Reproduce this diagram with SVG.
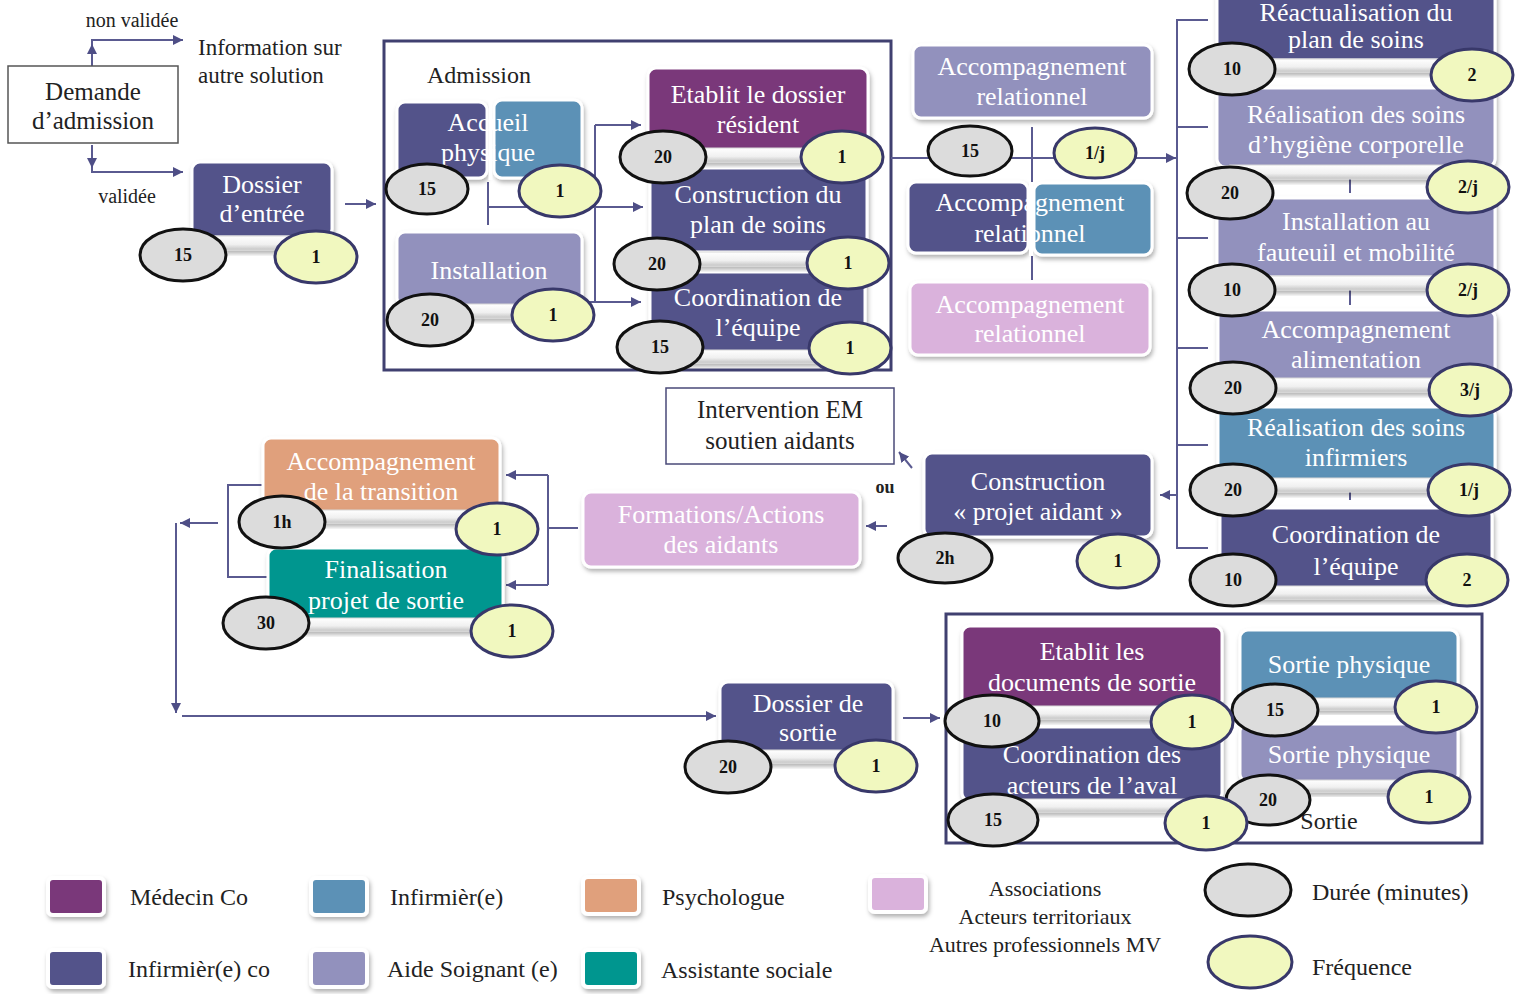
<svg xmlns="http://www.w3.org/2000/svg" width="1516" height="994" viewBox="0 0 1516 994">
<defs>
<filter id="sh" x="-10%" y="-20%" width="130%" height="160%"><feDropShadow dx="1.5" dy="3" stdDeviation="2" flood-color="#000" flood-opacity="0.3"/></filter>
<linearGradient id="barg" x1="0" y1="0" x2="0" y2="1"><stop offset="0" stop-color="#ffffff"/><stop offset="0.6" stop-color="#f0f0f0"/><stop offset="1" stop-color="#c4c4c4"/></linearGradient>
<marker id="ar" viewBox="0 0 10 10" refX="10" refY="5" markerWidth="10" markerHeight="10" markerUnits="userSpaceOnUse" orient="auto"><path d="M0,0 L10,5 L0,10 z" fill="#4e4e86"/></marker>
</defs>
<style>
text{font-family:"Liberation Serif","DejaVu Serif",serif}
.b{stroke:#fff;stroke-width:3;filter:url(#sh)}
.ic{fill:#53528a}.mc{fill:#7a387a}.inf{fill:#5b91b6}.as{fill:#9291bd}.psy{fill:#e0a07c}.soc{fill:#00968f}.ass{fill:#dab2dc}
.t{fill:#fff;font-size:26px;text-anchor:middle}
.bar{fill:url(#barg);stroke:#d6d6d6;stroke-width:1;filter:url(#sh)}
.d{fill:#dcdcdc;stroke:#111;stroke-width:3}
.f{fill:#f1f8bf;stroke:#38386a;stroke-width:3}
.n{font-size:18px;font-weight:bold;text-anchor:middle;fill:#111}
.c{fill:none;stroke:#5a5a90;stroke-width:2}
.k{fill:#222}
.lg{font-size:24px;fill:#222}
.sq{stroke:#fff;stroke-width:4;filter:url(#sh)}
</style>
<rect x="0" y="0" width="1516" height="994" fill="#fff"/>

<!-- frames -->
<rect x="384" y="41" width="507" height="329" fill="#fff" stroke="#404070" stroke-width="3"/>
<rect x="946" y="614" width="536" height="229" fill="#fff" stroke="#404070" stroke-width="3"/>

<g id="connectors">
<path class="c" d="M92,66 V44" marker-end="url(#ar)"/>
<path class="c" d="M92,44 V40 H183" marker-end="url(#ar)"/>
<path class="c" d="M92,145 V168" marker-end="url(#ar)"/>
<path class="c" d="M92,168 V172 H183" marker-end="url(#ar)"/>
<path class="c" d="M345,204 H376" marker-end="url(#ar)"/>
<path class="c" d="M488,182 V225"/>
<path class="c" d="M488,207 H643" marker-end="url(#ar)"/>
<path class="c" d="M595,125 V302"/>
<path class="c" d="M595,125 H641" marker-end="url(#ar)"/>
<path class="c" d="M582,302 H641" marker-end="url(#ar)"/>
<path class="c" d="M891,158 H1176" marker-end="url(#ar)"/>
<path class="c" d="M1032,127 V280"/>
<path class="c" d="M1208,20 H1177 V548 H1208"/>
<path class="c" d="M1177,127 H1208 M1177,238 H1208 M1177,348 H1208 M1177,445 H1208"/>
<path class="c" d="M1177,495 H1160" marker-end="url(#ar)"/>
<path class="c" d="M1350,165 V193 M1350,280 V305 M1350,478 V500" stroke-width="1.5"/>
<path class="c" d="M912,468 L899,452" marker-end="url(#ar)"/>
<path class="c" d="M887,526 H866" marker-end="url(#ar)"/>
<path class="c" d="M578,528 H548 M548,475 V585"/>
<path class="c" d="M548,475 H506" marker-end="url(#ar)"/>
<path class="c" d="M548,585 H506" marker-end="url(#ar)"/>
<path class="c" d="M262,485 H228 V577 H267"/>
<path class="c" d="M218,523 H180" marker-end="url(#ar)"/>
<path class="c" d="M176,523 V713" marker-end="url(#ar)"/>
<path class="c" d="M182,716 H716" marker-end="url(#ar)"/>
<path class="c" d="M903,718 H940" marker-end="url(#ar)"/>
</g>

<g id="labels">
<text class="k" x="132" y="27" font-size="20" text-anchor="middle">non validée</text>
<text class="k" x="198" y="55" font-size="23">Information sur</text>
<text class="k" x="198" y="83" font-size="23">autre solution</text>
<text class="k" x="127" y="203" font-size="20" text-anchor="middle">validée</text>
<text class="k" x="427" y="83" font-size="24">Admission</text>
<text class="k" x="885" y="493" font-size="18" text-anchor="middle" font-weight="bold">ou</text>
<text class="k" x="1329" y="829" font-size="24" text-anchor="middle">Sortie</text>
</g>

<g id="demande-admission">
<rect x="8" y="66" width="170" height="77" fill="#fff" stroke="#555" stroke-width="1.5"/>
<text class="k" x="93" y="100" font-size="25" text-anchor="middle">Demande</text>
<text class="k" x="93" y="129" font-size="25" text-anchor="middle">d’admission</text>
</g>

<g id="dossier-entree">
<rect class="b ic" x="192" y="162" width="140" height="75" rx="8"/>
<rect class="bar" x="200" y="236" width="124" height="14" rx="3"/>
<text class="t" x="262" y="193">Dossier</text>
<text class="t" x="262" y="222">d’entrée</text>
<ellipse class="d" cx="183" cy="255" rx="43" ry="26"/><text class="n" x="183" y="261">15</text>
<ellipse class="f" cx="316" cy="257" rx="41" ry="26"/><text class="n" x="316" y="263">1</text>
</g>

<g id="coordination-equipe-admission">
<rect class="b ic" x="650" y="272" width="215" height="80" rx="8"/>
<rect class="bar" x="660" y="350" width="195" height="13" rx="3"/>
<text class="t" x="758" y="306">Coordination de</text>
<text class="t" x="758" y="336">l’équipe</text>
<ellipse class="d" cx="660" cy="347" rx="43" ry="26"/><text class="n" x="660" y="353">15</text>
<ellipse class="f" cx="850" cy="348" rx="41" ry="26"/><text class="n" x="850" y="354">1</text>
</g>

<g id="construction-plan">
<rect class="b ic" x="650" y="168" width="217" height="84" rx="8"/>
<rect class="bar" x="660" y="252" width="197" height="14" rx="3"/>
<text class="t" x="758" y="203">Construction du</text>
<text class="t" x="758" y="233">plan de soins</text>
<ellipse class="d" cx="657" cy="264" rx="43" ry="26"/><text class="n" x="657" y="270">20</text>
<ellipse class="f" cx="848" cy="263" rx="41" ry="26"/><text class="n" x="848" y="269">1</text>
</g>

<g id="etablit-dossier">
<rect class="b mc" x="648" y="68" width="220" height="82" rx="8"/>
<rect class="bar" x="658" y="148" width="200" height="14" rx="3"/>
<text class="t" x="758" y="103">Etablit le dossier</text>
<text class="t" x="758" y="133">résident</text>
<ellipse class="d" cx="663" cy="157" rx="43" ry="26"/><text class="n" x="663" y="163">20</text>
<ellipse class="f" cx="842" cy="157" rx="41" ry="26"/><text class="n" x="842" y="163">1</text>
</g>

<g id="installation">
<rect class="b as" x="397" y="232" width="185" height="74" rx="8"/>
<rect class="bar" x="405" y="304" width="170" height="14" rx="3"/>
<text class="t" x="489" y="279">Installation</text>
<ellipse class="d" cx="430" cy="320" rx="43" ry="26"/><text class="n" x="430" y="326">20</text>
<ellipse class="f" cx="553" cy="315" rx="41" ry="26"/><text class="n" x="553" y="321">1</text>
</g>

<g id="accueil-physique">
<rect class="b ic" x="397" y="102" width="90" height="76" rx="8"/>
<rect class="b inf" x="494" y="100" width="88" height="78" rx="8"/>
<text class="t" x="488" y="131">Accueil</text>
<text class="t" x="488" y="161">physique</text>
<line x1="490.5" y1="100" x2="490.5" y2="180" stroke="#fff" stroke-width="4"/>
<ellipse class="d" cx="427" cy="189" rx="41" ry="25"/><text class="n" x="427" y="195">15</text>
<ellipse class="f" cx="560" cy="191" rx="41" ry="26"/><text class="n" x="560" y="197">1</text>
</g>

<g id="accompagnement-relationnel-as">
<rect class="b as" x="913" y="45" width="239" height="73" rx="8"/>
<text class="t" x="1032" y="75">Accompagnement</text>
<text class="t" x="1032" y="105">relationnel</text>
<ellipse class="d" cx="970" cy="151" rx="42" ry="25"/><text class="n" x="970" y="157">15</text>
<ellipse class="f" cx="1095" cy="153" rx="41" ry="25"/><text class="n" x="1095" y="159">1/j</text>
</g>

<g id="accompagnement-relationnel-inf">
<rect class="b ic" x="908" y="182" width="120" height="71" rx="8"/>
<rect class="b inf" x="1034" y="183" width="118" height="72" rx="8"/>
<text class="t" x="1030" y="211">Accompagnement</text>
<text class="t" x="1030" y="242">relationnel</text>
<line x1="1031" y1="182" x2="1031" y2="256" stroke="#fff" stroke-width="4"/>
</g>

<g id="accompagnement-relationnel-ass">
<rect class="b ass" x="910" y="282" width="240" height="73" rx="8"/>
<text class="t" x="1030" y="313">Accompagnement</text>
<text class="t" x="1030" y="342">relationnel</text>
</g>

<g id="coordination-equipe">
<rect class="b ic" x="1220" y="508" width="272" height="80" rx="8"/>
<rect class="bar" x="1230" y="586" width="252" height="13" rx="3"/>
<text class="t" x="1356" y="543">Coordination de</text>
<text class="t" x="1356" y="575">l’équipe</text>
<ellipse class="d" cx="1233" cy="580" rx="43" ry="26"/><text class="n" x="1233" y="586">10</text>
<ellipse class="f" cx="1467" cy="580" rx="41" ry="26"/><text class="n" x="1467" y="586">2</text>
</g>

<g id="soins-infirmiers">
<rect class="b inf" x="1218" y="407" width="277" height="73" rx="8"/>
<rect class="bar" x="1228" y="478" width="257" height="14" rx="3"/>
<text class="t" x="1356" y="436">Réalisation des soins</text>
<text class="t" x="1356" y="466">infirmiers</text>
<ellipse class="d" cx="1233" cy="490" rx="43" ry="26"/><text class="n" x="1233" y="496">20</text>
<ellipse class="f" cx="1469" cy="490" rx="41" ry="26"/><text class="n" x="1469" y="496">1/j</text>
</g>

<g id="accompagnement-alimentation">
<rect class="b as" x="1218" y="310" width="277" height="70" rx="8"/>
<rect class="bar" x="1228" y="378" width="257" height="14" rx="3"/>
<text class="t" x="1356" y="338">Accompagnement</text>
<text class="t" x="1356" y="368">alimentation</text>
<ellipse class="d" cx="1233" cy="388" rx="43" ry="26"/><text class="n" x="1233" y="394">20</text>
<ellipse class="f" cx="1470" cy="390" rx="41" ry="26"/><text class="n" x="1470" y="396">3/j</text>
</g>

<g id="installation-fauteuil">
<rect class="b as" x="1217" y="198" width="278" height="79" rx="8"/>
<rect class="bar" x="1227" y="276" width="258" height="14" rx="3"/>
<text class="t" x="1356" y="230">Installation au</text>
<text class="t" x="1356" y="261">fauteuil et mobilité</text>
<ellipse class="d" cx="1232" cy="290" rx="43" ry="26"/><text class="n" x="1232" y="296">10</text>
<ellipse class="f" cx="1468" cy="290" rx="41" ry="26"/><text class="n" x="1468" y="296">2/j</text>
</g>

<g id="soins-hygiene">
<rect class="b as" x="1217" y="88" width="278" height="79" rx="8"/>
<rect class="bar" x="1227" y="165" width="258" height="14" rx="3"/>
<text class="t" x="1356" y="123">Réalisation des soins</text>
<text class="t" x="1356" y="153">d’hygiène corporelle</text>
<ellipse class="d" cx="1230" cy="193" rx="43" ry="26"/><text class="n" x="1230" y="199">20</text>
<ellipse class="f" cx="1468" cy="187" rx="41" ry="26"/><text class="n" x="1468" y="193">2/j</text>
</g>

<g id="reactualisation">
<rect class="b ic" x="1217" y="-12" width="278" height="72" rx="8"/>
<rect class="bar" x="1227" y="59" width="258" height="13" rx="3"/>
<text class="t" x="1356" y="21" font-size="20">Réactualisation du</text>
<text class="t" x="1356" y="48" font-size="20">plan de soins</text>
<ellipse class="d" cx="1232" cy="69" rx="43" ry="26"/><text class="n" x="1232" y="75">10</text>
<ellipse class="f" cx="1472" cy="75" rx="41" ry="26"/><text class="n" x="1472" y="81">2</text>
</g>

<g id="intervention-em">
<rect x="666" y="388" width="228" height="76" fill="#fff" stroke="#4a4a78" stroke-width="1.5"/>
<text class="k" x="780" y="418" font-size="25" text-anchor="middle">Intervention EM</text>
<text class="k" x="780" y="449" font-size="25" text-anchor="middle">soutien aidants</text>
</g>

<g id="construction-projet-aidant">
<rect class="b ic" x="924" y="453" width="228" height="84" rx="8"/>
<text class="t" x="1038" y="490">Construction</text>
<text class="t" x="1038" y="520">« projet aidant »</text>
<ellipse class="d" cx="945" cy="558" rx="47" ry="25"/><text class="n" x="945" y="564">2h</text>
<ellipse class="f" cx="1118" cy="561" rx="41" ry="27"/><text class="n" x="1118" y="567">1</text>
</g>

<g id="formations-aidants">
<rect class="b ass" x="583" y="492" width="277" height="75" rx="8"/>
<text class="t" x="721" y="523">Formations/Actions</text>
<text class="t" x="721" y="553">des aidants</text>
</g>

<g id="finalisation-projet">
<rect class="b soc" x="268" y="548" width="235" height="72" rx="8"/>
<rect class="bar" x="278" y="618" width="215" height="13" rx="3"/>
<text class="t" x="386" y="578">Finalisation</text>
<text class="t" x="386" y="609">projet de sortie</text>
<ellipse class="d" cx="266" cy="623" rx="43" ry="26"/><text class="n" x="266" y="629">30</text>
<ellipse class="f" cx="512" cy="631" rx="41" ry="26"/><text class="n" x="512" y="637">1</text>
</g>

<g id="accompagnement-transition">
<rect class="b psy" x="263" y="438" width="237" height="74" rx="8"/>
<rect class="bar" x="273" y="510" width="217" height="13" rx="3"/>
<text class="t" x="381" y="470">Accompagnement</text>
<text class="t" x="381" y="500">de la transition</text>
<ellipse class="d" cx="282" cy="522" rx="43" ry="26"/><text class="n" x="282" y="528">1h</text>
<ellipse class="f" cx="497" cy="529" rx="41" ry="26"/><text class="n" x="497" y="535">1</text>
</g>

<g id="dossier-sortie">
<rect class="b ic" x="720" y="682" width="173" height="70" rx="8"/>
<rect class="bar" x="730" y="750" width="153" height="13" rx="3"/>
<text class="t" x="808" y="712">Dossier de</text>
<text class="t" x="808" y="741">sortie</text>
<ellipse class="d" cx="728" cy="767" rx="43" ry="26"/><text class="n" x="728" y="773">20</text>
<ellipse class="f" cx="876" cy="766" rx="41" ry="26"/><text class="n" x="876" y="772">1</text>
</g>

<g id="sortie-physique-as">
<rect class="b as" x="1240" y="724" width="218" height="58" rx="8"/>
<rect class="bar" x="1250" y="780" width="198" height="12" rx="3"/>
<text class="t" x="1349" y="763">Sortie physique</text>
<ellipse class="d" cx="1268" cy="800" rx="42" ry="25"/><text class="n" x="1268" y="806">20</text>
<ellipse class="f" cx="1429" cy="797" rx="41" ry="26"/><text class="n" x="1429" y="803">1</text>
</g>

<g id="sortie-physique-inf">
<rect class="b inf" x="1240" y="630" width="218" height="70" rx="8"/>
<rect class="bar" x="1250" y="698" width="198" height="12" rx="3"/>
<text class="t" x="1349" y="673">Sortie physique</text>
<ellipse class="d" cx="1275" cy="710" rx="43" ry="26"/><text class="n" x="1275" y="716">15</text>
<ellipse class="f" cx="1436" cy="707" rx="41" ry="26"/><text class="n" x="1436" y="713">1</text>
</g>

<g id="coordination-aval">
<rect class="b ic" x="962" y="727" width="260" height="74" rx="8"/>
<rect class="bar" x="972" y="799" width="240" height="13" rx="3"/>
<text class="t" x="1092" y="763">Coordination des</text>
<text class="t" x="1092" y="794">acteurs de l’aval</text>
<ellipse class="d" cx="993" cy="820" rx="45" ry="26"/><text class="n" x="993" y="826">15</text>
<ellipse class="f" cx="1206" cy="823" rx="41" ry="27"/><text class="n" x="1206" y="829">1</text>
</g>

<g id="etablit-documents">
<rect class="b mc" x="962" y="626" width="260" height="82" rx="8"/>
<rect class="bar" x="972" y="706" width="240" height="13" rx="3"/>
<text class="t" x="1092" y="660">Etablit les</text>
<text class="t" x="1092" y="691">documents de sortie</text>
<ellipse class="d" cx="992" cy="721" rx="47" ry="26"/><text class="n" x="992" y="727">10</text>
<ellipse class="f" cx="1192" cy="722" rx="41" ry="27"/><text class="n" x="1192" y="728">1</text>
</g>

<g id="legend">
<rect class="sq mc" x="48" y="878" width="56" height="37" rx="5"/>
<text class="lg" x="130" y="905">Médecin Co</text>
<rect class="sq inf" x="311" y="878" width="56" height="37" rx="5"/>
<text class="lg" x="390" y="905">Infirmièr(e)</text>
<rect class="sq psy" x="583" y="877" width="56" height="37" rx="5"/>
<text class="lg" x="662" y="905">Psychologue</text>
<rect class="sq ass" x="870" y="876" width="56" height="36" rx="5"/>
<text class="k" x="1045" y="896" font-size="22" text-anchor="middle">Associations</text>
<text class="k" x="1045" y="924" font-size="22" text-anchor="middle">Acteurs territoriaux</text>
<text class="k" x="1045" y="952" font-size="22" text-anchor="middle">Autres professionnels MV</text>
<rect class="sq ic" x="48" y="950" width="56" height="37" rx="5"/>
<text class="lg" x="128" y="977">Infirmièr(e) co</text>
<rect class="sq as" x="311" y="950" width="56" height="37" rx="5"/>
<text class="lg" x="387" y="977">Aide Soignant (e)</text>
<rect class="sq soc" x="583" y="950" width="56" height="37" rx="5"/>
<text class="lg" x="661" y="978">Assistante sociale</text>
<ellipse class="d" cx="1248" cy="890" rx="43" ry="26"/>
<text class="lg" x="1312" y="900">Durée (minutes)</text>
<ellipse class="f" cx="1250" cy="962" rx="42" ry="26"/>
<text class="lg" x="1312" y="975">Fréquence</text>
</g>
</svg>
